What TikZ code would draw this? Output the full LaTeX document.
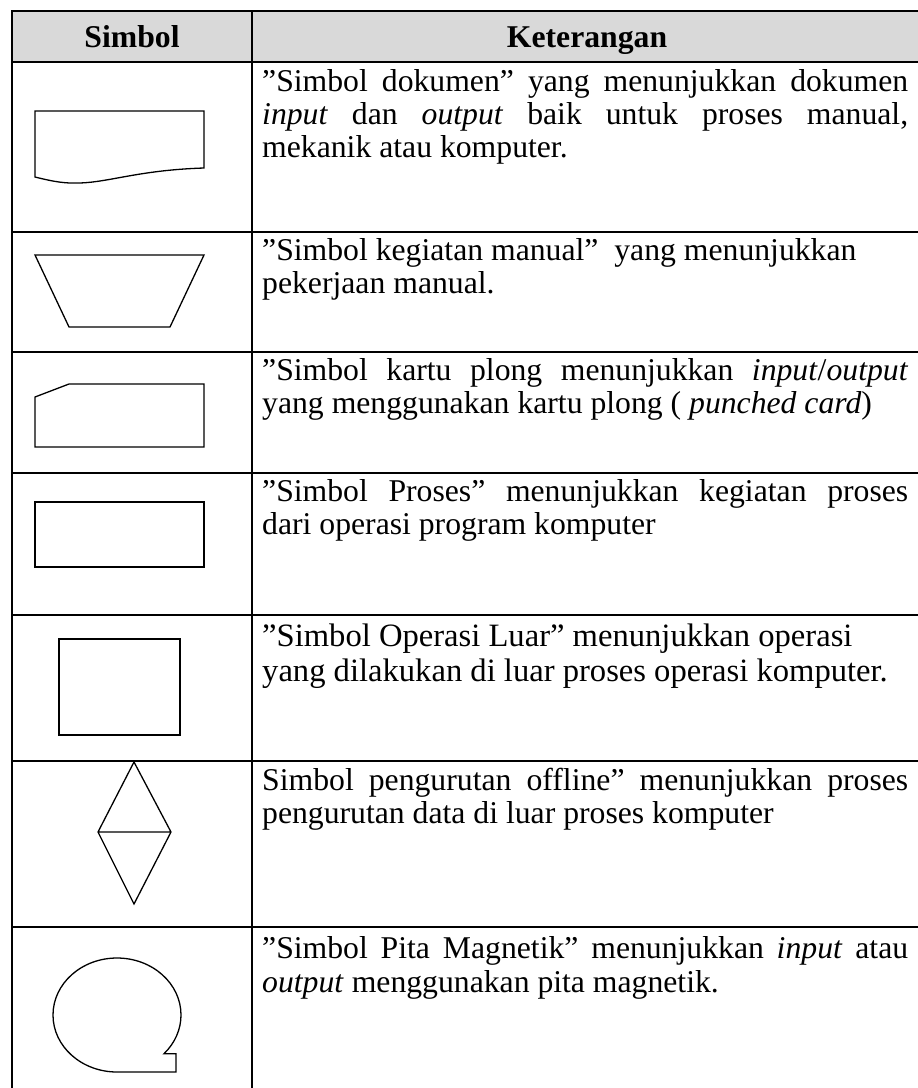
\documentclass[tikz,border=0pt]{standalone}
\usepackage{fontspec}
\setmainfont{Liberation Serif}
\definecolor{headgray}{HTML}{D9D9D9}
\newlength\descw
\setlength\descw{646pt}
% one justified line / one natural line of a description
\newcommand\jline[1]{\hbox to\descw{#1}}
\newcommand\nline[1]{\hbox{#1}}
\newcommand\desclines[2]{\vtop{\baselineskip=#1pt\lineskip=0pt\parindent=0pt #2}}
\tikzset{
  grid line/.style={line width=2pt, black, line cap=rect},
  symbol line/.style={line width=1.3pt, black, line join=miter},
  head/.style={font=\fontsize{31.7}{38}\selectfont\bfseries, inner sep=0pt, anchor=base},
  desc/.style={font=\fontsize{31.7}{38}\selectfont, inner sep=0pt, anchor=base west},
  desc large/.style={desc, font=\fontsize{32.6}{38}\selectfont},
}
\begin{document}
\begin{tikzpicture}[x=1pt,y=-1pt]
\useasboundingbox (0,0) rectangle (918,1088);

% header band and table rules
\fill[headgray] (12,11) rectangle (922,62);
\draw[grid line] (12,11) rectangle (922,1095);
\foreach \yy in {62,232,352,473,615,761,927}
  \draw[grid line] (12,\yy) -- (922,\yy);
\draw[grid line] (252,11) -- (252,1095);

% column headings
\node[head] (hsym) at (132,47) {Simbol};
\node[head] (hket) at (587,47) {Keterangan};

% symbols
\draw[symbol line] (35,111) -- (204,111) -- (204,168)
  .. controls (140,170) and (110,182) .. (80,183)
  .. controls (65,183.5) and (55,182) .. (35,177) -- cycle;
\draw[symbol line] (35,255) -- (204,255) -- (170,327) -- (69,327) -- cycle;
\draw[symbol line] (35,397) -- (69,384) -- (204,384) -- (204,447) -- (35,447) -- cycle;
\draw[symbol line] (35,502) rectangle (204,567);
\draw[symbol line] (59,639) rectangle (180,735);
\draw[symbol line] (134,762) -- (171,832) -- (134,904) -- (98,832) -- cycle
  (98,832) -- (171,832);
\draw[symbol line] (117,1072) arc[start angle=90, end angle=402.8, x radius=64, y radius=57]
  -- (176,1053.7) -- (176,1072) -- cycle;

% descriptions
\node[desc] (d1) at (262,91) {\desclines{33}{%
  \jline{”Simbol dokumen” yang menunjukkan dokumen}
  \jline{\textit{input} dan \textit{output} baik untuk proses manual,}
  \nline{mekanik atau komputer.}}};
\node[desc] (d2) at (262,260) {\desclines{33}{%
  \nline{”Simbol kegiatan manual”\ \ yang menunjukkan}
  \nline{pekerjaan manual.}}};
\node[desc] (d3) at (262,380) {\desclines{33}{%
  \jline{”Simbol kartu plong menunjukkan \textit{input}/\textit{output}}
  \nline{yang menggunakan kartu plong ( \textit{punched card})}}};
\node[desc] (d4) at (262,501) {\desclines{33}{%
  \jline{”Simbol Proses” menunjukkan kegiatan proses}
  \nline{dari operasi program komputer}}};
\node[desc large] (d5) at (262,646) {\desclines{35}{%
  \nline{”Simbol Operasi Luar” menunjukkan operasi}
  \nline{yang dilakukan di luar proses operasi komputer.}}};
\node[desc] (d6) at (262,790) {\desclines{33}{%
  \jline{Simbol pengurutan offline” menunjukkan proses}
  \nline{pengurutan data di luar proses komputer}}};
\node[desc] (d7) at (262,958) {\desclines{34}{%
  \jline{”Simbol Pita Magnetik” menunjukkan \textit{input} atau}
  \nline{\textit{output} menggunakan pita magnetik.}}};
\end{tikzpicture}
\end{document}
